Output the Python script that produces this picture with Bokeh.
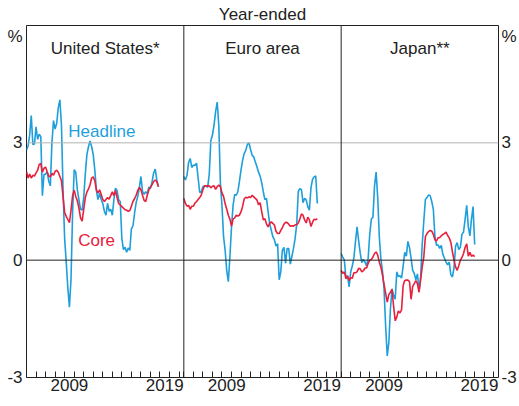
import numpy as np
import pandas as pd
from bokeh.plotting import figure
from bokeh.models import Range1d, FixedTicker, Span, LinearAxis, PrintfTickFormatter
from bokeh.core.properties import value
from bokeh.embed import file_html
from bokeh.resources import INLINE

# ---------------- data ----------------
panels = ["United States*", "Euro area", "Japan**"]
x_tick_labels = ["2009", "2019"]
y_tick_values = [-3, 0, 3]
series_names = ["Headline", "Core"]

# bi-monthly observations starting January 2005 (year-ended % change)
us_headline = [2.82, 2.92, 3.2, 3.7, 2.96, 2.97, 3.41, 3.09, 3.22, 3.16,
               1.65, 2.19, 2.2, 2.26, 2.02, 1.9, 3.0, 3.57, 3.35, 3.5,
               3.9, 4.1, 3.45, 1.8, 0.55, -0.05, -0.7, -1.2, -0.5, 1.2,
               2.31, 2.25, 1.8, 1.55, 1.3, 1.28, 1.6, 2.2, 2.7, 2.9,
               3.05, 2.9, 2.7, 2.3, 1.78, 1.55, 1.71, 1.55, 1.45, 1.25,
               1.15, 1.45, 1.25, 1.3, 1.15, 1.55, 1.84, 1.78, 1.54, 1.5,
               0.55, 0.27, 0.33, 0.2, 0.31, 0.25, 0.8, 0.88, 1.2, 1.47,
               1.63, 1.85, 2.14, 1.76, 1.68, 1.75, 1.7, 1.87, 1.84, 2.0,
               2.23, 2.33, 2.05, 1.88]
us_core = [2.26, 2.1, 2.2, 2.1, 2.17, 2.15, 2.23, 2.3, 2.45, 2.47,
           2.25, 2.35, 2.38, 2.26, 2.15, 2.13, 2.22, 2.17, 2.27, 2.3,
           2.25, 2.14, 2.03, 1.62, 1.22, 1.12, 1.04, 0.96, 1.27, 1.65,
           1.79, 1.63, 1.52, 1.33, 1.08, 1.0, 1.3, 1.6, 1.74, 1.82,
           1.93, 2.1, 2.13, 2.03, 1.79, 1.72, 1.8, 1.68, 1.55, 1.5,
           1.55, 1.6, 1.56, 1.65, 1.75, 1.65, 1.78, 1.6, 1.45, 1.41,
           1.37, 1.33, 1.29, 1.28, 1.25, 1.27, 1.38, 1.5, 1.57, 1.66,
           1.78, 1.86, 1.8, 1.66, 1.53, 1.5, 1.66, 1.8, 1.86, 1.93,
           2.01, 2.05, 2.01, 1.88]
ea_headline = [2.14, 2.05, 2.17, 2.5, 2.6, 2.37, 2.43, 2.42, 2.48, 2.1,
               1.73, 1.75, 1.88, 1.9, 1.9, 1.86, 2.2, 3.06, 3.2, 3.45,
               3.8, 4.04, 3.45, 1.97, 1.4, 0.6, 0.25, -0.27, -0.55, 0.1,
               0.85, 1.4, 1.68, 1.66, 1.75, 2.02, 2.31, 2.56, 2.73, 2.81,
               2.96, 3.0, 2.83, 2.68, 2.64, 2.51, 2.39, 2.25, 2.15, 1.98,
               1.75, 1.55, 1.58, 1.25, 0.93, 0.77, 0.6, 0.52, 0.36, 0.42,
               -0.5, -0.3, 0.25, 0.33, -0.08, 0.3, 0.3, -0.1, 0.1, 0.3,
               0.55, 0.9, 1.75, 1.83, 1.8, 1.47, 1.58, 1.54, 1.37, 1.28,
               1.85, 2.07, 2.13, 2.15, 1.45]
ea_core = [1.58, 1.45, 1.38, 1.4, 1.3, 1.38, 1.38, 1.46, 1.5, 1.55,
           1.6, 1.67, 1.8, 1.9, 1.9, 1.9, 1.9, 1.85, 1.89, 1.9,
           1.81, 1.88, 1.92, 1.88, 1.72, 1.63, 1.44, 1.3, 1.15, 1.05,
           0.87, 1.05, 1.08, 1.15, 1.13, 1.15, 1.24, 1.38, 1.57, 1.61,
           1.59, 1.62, 1.6, 1.66, 1.62, 1.58, 1.54, 1.42, 1.47, 1.24,
           1.03, 1.06, 0.93, 0.85, 0.94, 0.98, 0.94, 0.9, 0.74, 0.68,
           0.68, 0.76, 0.83, 0.92, 0.97, 0.96, 0.92, 0.87, 0.88, 0.87,
           0.9, 0.91, 0.95, 1.05, 1.18, 1.15, 1.03, 0.95, 1.1, 1.03,
           0.86, 0.97, 1.05, 1.03, 1.06]
jp_headline = [0.17, 0.08, 0.0, -0.45, -0.4, -0.68, -0.3, -0.15, 0.05, 0.47,
               0.85, 0.5, 0.18, -0.06, 0.02, -0.05, -0.15, 0.05, 0.68, 1.05,
               1.1, 1.9, 2.25, 1.6, 0.6, 0.03, -0.28, -0.75, -1.7, -2.45,
               -2.1, -1.25, -0.73, -0.9, -1.0, -0.3, -0.42, -0.4, -0.46, -0.15,
               0.2, 0.1, 0.48, 0.32, 0.05, -0.26, -0.34, -0.5, -0.35, -0.8,
               -0.43, 0.4, 1.0, 1.55, 1.6, 1.67, 1.65, 1.5, 1.3, 0.6,
               0.38, 0.39, 0.3, 0.38, 0.15, 0.05, -0.05, -0.12, -0.05, -0.37,
               -0.43, -0.2, 0.36, 0.45, 0.27, 0.33, 0.66, 0.72, 1.05, 1.4,
               0.85, 0.62, 1.05, 1.37, 0.4]
jp_core = [-0.26, -0.34, -0.3, -0.48, -0.4, -0.52, -0.45, -0.46, -0.32, -0.32,
           -0.3, -0.21, -0.22, -0.3, -0.27, -0.2, -0.2, -0.08, 0.0, 0.02,
           0.08, 0.17, 0.21, 0.13, -0.05, -0.18, -0.38, -0.62, -0.85, -1.07,
           -0.88, -0.82, -0.75, -1.18, -1.55, -1.45, -1.3, -1.35, -1.27, -0.65,
           -0.52, -0.51, -0.51, -0.55, -1.0, -0.67, -0.6, -0.52, -0.6, -0.82,
           -0.5, -0.17, 0.08, 0.6, 0.68, 0.73, 0.76, 0.74, 0.66, 0.52,
           0.49, 0.57, 0.58, 0.62, 0.66, 0.68, 0.72, 0.63, 0.57, 0.46,
           0.22, 0.0, -0.17, -0.26, -0.14, 0.0, 0.07, 0.17, 0.33, 0.42,
           0.1, 0.2, 0.1, 0.13, 0.09]

panel_data = [(us_headline, us_core), (ea_headline, ea_core), (jp_headline, jp_core)]

# ---------------- layout / style ----------------
START = 2005.0
SPAN = 16.5          # years shown in each panel
FONT = "Liberation Sans"
FS = "17px"
TXT = "#222222"
BLUE = "#1e9fdb"
RED = "#e8203c"


def dec_years(n):
    d = pd.date_range("2005-01-01", periods=n, freq="2MS")
    return np.asarray(d.year + (d.month - 1) / 12.0, dtype=float)


p = figure(width=519, height=406, output_backend="svg", toolbar_location=None,
           x_range=Range1d(0, 3 * SPAN), y_range=Range1d(-3, 6),
           title="Year-ended",
           min_border_left=26, min_border_right=18, min_border_top=25, min_border_bottom=29)
p.background_fill_color = "white"
p.border_fill_color = "white"
p.outline_line_color = TXT
p.outline_line_width = 1
p.xgrid.visible = False
p.ygrid.visible = False

p.title.align = "center"
p.title.text_font = FONT
p.title.text_font_size = FS
p.title.text_font_style = "normal"
p.title.text_color = TXT
p.title.standoff = 3

# reference lines
p.add_layout(Span(location=3, dimension="width", line_color="#b4b4b4", line_width=1))
p.add_layout(Span(location=0, dimension="width", line_color=TXT, line_width=1))
for i in (1, 2):
    p.add_layout(Span(location=i * SPAN, dimension="height", line_color=TXT, line_width=1))

# lines
for i, (head, core) in enumerate(panel_data):
    off = i * SPAN - START
    xh = dec_years(len(head)) + off
    xc = dec_years(len(core)) + off
    p.line(xh, head, line_color=BLUE, line_width=1.6)
    p.line(xc, core, line_color=RED, line_width=1.6)

# panel titles
p.text(x=[SPAN * (i + 0.5) for i in range(3)], y=[5.42] * 3, text=panels,
       text_align="center", text_baseline="middle",
       text_font=value(FONT), text_font_size=value(FS), text_color=TXT)

# series labels
p.text(x=[4.38], y=[3.3], text=[series_names[0]], text_align="left", text_baseline="middle",
       text_font=value(FONT), text_font_size=value(FS), text_color=BLUE)
p.text(x=[5.42], y=[0.5], text=[series_names[1]], text_align="left", text_baseline="middle",
       text_font=value(FONT), text_font_size=value(FS), text_color=RED)

# x axis: year ticks (minor) and centred year labels (major)
label_pos = []
overrides = {}
for i in range(3):
    for lab in x_tick_labels:
        pos = i * SPAN + (int(lab) + 0.5 - START)
        label_pos.append(pos)
        overrides[pos] = lab
year_ticks = [i * SPAN + k for i in range(3) for k in range(17)]

xa = p.xaxis[0]
xa.ticker = FixedTicker(ticks=label_pos, minor_ticks=year_ticks)
xa.major_label_overrides = overrides
xa.axis_line_color = None
xa.major_tick_in = 0
xa.major_tick_out = 0
xa.minor_tick_in = 6
xa.minor_tick_out = 0
xa.minor_tick_line_color = TXT
xa.major_label_standoff = 1
xa.major_label_text_font = FONT
xa.major_label_text_font_size = FS
xa.major_label_text_color = TXT

# y axis labels on both sides
pct_pos = 5.73
yt = list(y_tick_values) + [pct_pos]
y_over = {pct_pos: "%"}


def style_y(ax, standoff):
    ax.ticker = FixedTicker(ticks=yt)
    ax.formatter = PrintfTickFormatter(format="%d")
    ax.major_label_overrides = y_over
    ax.axis_line_color = None
    ax.major_tick_in = 0
    ax.major_tick_out = 0
    ax.minor_tick_in = 0
    ax.minor_tick_out = 0
    ax.major_label_standoff = standoff
    ax.major_label_text_font = FONT
    ax.major_label_text_font_size = FS
    ax.major_label_text_color = TXT


style_y(p.yaxis[0], 4)
ra = LinearAxis()
style_y(ra, 3)
p.add_layout(ra, "right")

open("out.html", "w").write(file_html(p, INLINE))
